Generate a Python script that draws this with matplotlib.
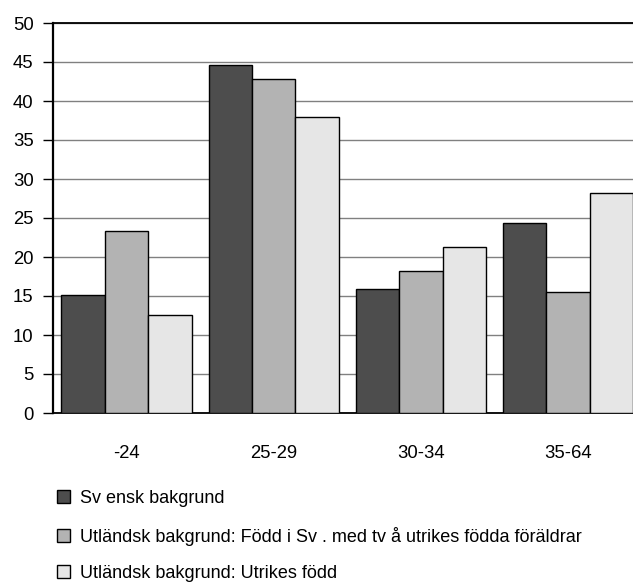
import numpy as np
import matplotlib
matplotlib.use('Agg')
import matplotlib.pyplot as plt

plt.rcParams['font.family'] = ['Liberation Sans', 'DejaVu Sans']

categories = ['-24', '25-29', '30-34', '35-64']
svensk = [15.1, 44.6, 15.9, 24.4]
fodd_i_sv = [23.3, 42.8, 18.2, 15.5]
utrikes = [12.6, 37.9, 21.3, 28.2]

labels = ['Sv ensk bakgrund',
          'Utländsk bakgrund: Född i Sv . med tv å utrikes födda föräldrar',
          'Utländsk bakgrund: Utrikes född']
colors = ['#4d4d4d', '#b3b3b3', '#e6e6e6']

fig = plt.figure(figsize=(6.33, 5.86), dpi=100)
ax = fig.add_axes([53 / 633, 1 - 413 / 586, 588.6 / 633, 390 / 586])

x = np.arange(len(categories))
w = 0.295
bars = []
for i, (vals, c) in enumerate(zip([svensk, fodd_i_sv, utrikes], colors)):
    b = ax.bar(x + (i - 1) * w, vals, w, color=c, edgecolor='black',
               linewidth=1, label=labels[i], zorder=3)
    bars.append(b)

ax.set_xlim(-0.5, 3.5)
ax.set_ylim(0, 50)
ax.set_yticks(range(0, 51, 5))
ax.set_xticks(x)
ax.set_xticklabels(categories)
ax.yaxis.grid(True, color='#808080', linewidth=1, zorder=0)
ax.set_axisbelow(True)
ax.tick_params(axis='y', length=7, width=1, pad=7, labelsize=13.3)
ax.tick_params(axis='x', length=0, pad=23, labelsize=13.3)
ax.spines['right'].set_visible(False)
ax.spines['left'].set_linewidth(1.6)
ax.spines['bottom'].set_linewidth(1.3)
ax.spines['top'].set_linewidth(1.3)

fig.legend(handles=[b[0] for b in bars], labels=labels, loc='upper left',
           bbox_to_anchor=(57 / 633, 1 - 490 / 586), frameon=False,
           fontsize=13, handlelength=0.7, handleheight=0.7,
           handletextpad=0.55, labelspacing=1.08, borderaxespad=0,
           borderpad=0)

fig.savefig('out.png', dpi=100)
